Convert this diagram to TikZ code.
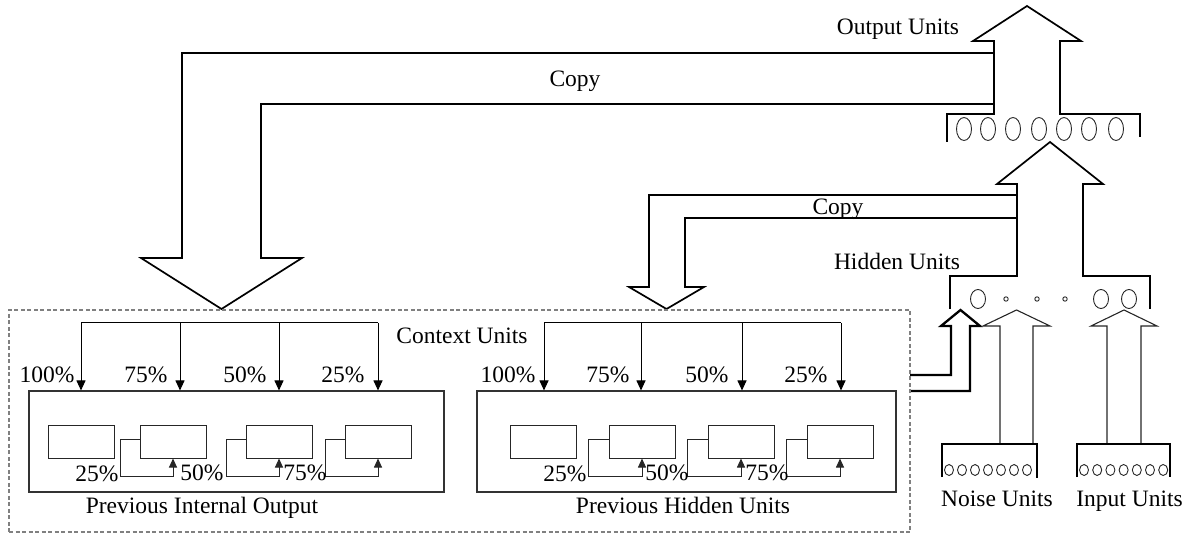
\documentclass[tikz,border=0pt]{standalone}
\usepackage{fontspec}
\setmainfont{Liberation Serif}
\usetikzlibrary{arrows.meta}
\begin{document}
\begin{tikzpicture}[x=1pt,y=-1pt,
  font=\fontsize{23.5}{28}\selectfont,
  blockarrow/.style={draw=black,line width=1.7pt,line join=miter},
  slimblock/.style={draw=black!85,line width=1.1pt,line join=miter},
  heavyblock/.style={draw=black,line width=2.3pt,line join=miter},
  unitline/.style={draw=black,line width=1.5pt},
  unit/.style={draw=black!85,line width=0.9pt},
  cell/.style={draw=black!85,line width=1pt,minimum width=66pt,minimum height=33pt,inner sep=0pt},
  bigbox/.style={draw=black!80,line width=1.1pt,inner sep=0pt,minimum height=101pt},
  ctxbox/.style={draw=gray,dash pattern=on 4pt off 2.5pt,line width=1.1pt,inner sep=0pt,minimum height=222pt,minimum width=901pt},
  bus/.style={draw=black,line width=1pt},
  drop/.style={draw=black,line width=1pt,-{Triangle[length=10pt,width=9pt]}},
  feed/.style={draw=black!85,line width=0.9pt,-{Triangle[length=9pt,width=8pt]}},
  lbl/.style={anchor=base,inner sep=0pt},
]
\useasboundingbox (0,0) rectangle (1193,534);

% ---------- output layer ----------
\draw[blockarrow] (947,142) -- (947,114) -- (994,114) -- (994,41) -- (973,41)
  -- (1027,6) -- (1081,41) -- (1060,41) -- (1060,114) -- (1140,114) -- (1140,137);
\foreach \x in {964,988,1013,1039,1064,1089,1116}
  \draw[unit] (\x,129) ellipse [x radius=7.5pt, y radius=11.5pt];
\node[lbl] (outlbl) at (898,35) {Output Units};

% copy of the output back to the context units
\draw[blockarrow] (994,53) -- (182,53) -- (182,258) -- (141,258) -- (221.5,309)
  -- (302,258) -- (261,258) -- (261,104) -- (994,104);
\node[lbl] (copyA) at (575,87) {Copy};

% ---------- hidden layer ----------
\draw[blockarrow] (950,309) -- (950,276) -- (1017,276) -- (1017,184) -- (997,184)
  -- (1050,142) -- (1103,184) -- (1083,184) -- (1083,276) -- (1150,276) -- (1150,309);
\foreach \x in {978,1101,1129}
  \draw[unit] (\x,299) ellipse [x radius=7.5pt, y radius=9.5pt];
\foreach \x in {1006,1037,1065}
  \draw[unit] (\x,299) circle [radius=2.2pt];
\node[lbl] (hidlbl) at (897,270) {Hidden Units};

% copy of the hidden layer back to the context units
\draw[blockarrow] (1017,195) -- (649,195) -- (649,287) -- (629,287) -- (666.5,309)
  -- (704,287) -- (685,287) -- (685,218) -- (1017,218);
\node[lbl] (copyB) at (838,215) {Copy};

% context units feeding the hidden layer
\draw[heavyblock] (910,375) -- (951,375) -- (951,326) -- (941,326) -- (960.5,310)
  -- (980,326) -- (970,326) -- (970,391) -- (910,391);

% ---------- noise and input layers ----------
\draw[slimblock] (1000,444) -- (1000,326) -- (983,326) -- (1016.5,310) -- (1050,326)
  -- (1033,326) -- (1033,444);
\draw[unitline] (942,477) -- (942,444) -- (1037,444) -- (1037,478);
\foreach \i in {0,...,6}
  \draw[unit] (949+13*\i,470) ellipse [x radius=4.5pt, y radius=5.5pt];
\node[lbl] (noiselbl) at (997,506) {Noise Units};

\draw[slimblock] (1107,444) -- (1107,326) -- (1091,326) -- (1124,310) -- (1157,326)
  -- (1141,326) -- (1141,444);
\draw[unitline] (1077,477) -- (1077,444) -- (1170,444) -- (1170,477);
\foreach \i in {0,...,6}
  \draw[unit] (1084+13.2*\i,470) ellipse [x radius=4.5pt, y radius=5.5pt];
\node[lbl] (inlbl) at (1129.5,506) {Input Units};

% ---------- context units ----------
\node[ctxbox] (ctx) at (459.5,421) {};
\node[lbl] (ctxlbl) at (462,343) {Context Units};

% previous internal output
\node[bigbox,minimum width=415pt] (pio) at (236.5,441.5) {};
\node[lbl] (piolbl) at (202,513) {Previous Internal Output};
\node[cell] (a1) at (81,441.5) {};
\node[cell] (a2) at (173,441.5) {};
\node[cell] (a3) at (279,441.5) {};
\node[cell] (a4) at (378,441.5) {};
\coordinate (ad1) at (81,323);
\coordinate (ad2) at (180,323);
\coordinate (ad3) at (279,323);
\coordinate (ad4) at (378,323);
\draw[bus] (ad1) -- (ad4);
\foreach \k in {1,...,4}
  \draw[drop] (ad\k) -- (ad\k |- pio.north);
\node[lbl] at (47,382) {100\%};
\node[lbl] at (146,382) {75\%};
\node[lbl] at (245,382) {50\%};
\node[lbl] at (343,382) {25\%};
\foreach \k in {2,3,4}
  \draw[feed] ([yshift=2.5pt]a\k.west) -- ++(-19,0) |- ([yshift=-34.5pt]a\k.center) -- (a\k.south);
\node[lbl] at (97,481) {25\%};
\node[lbl] at (202,480) {50\%};
\node[lbl] at (305,480) {75\%};

% previous hidden units
\node[bigbox,minimum width=419pt] (phu) at (686.5,441.5) {};
\node[lbl] (phulbl) at (683,513) {Previous Hidden Units};
\node[cell] (b1) at (543,441.5) {};
\node[cell] (b2) at (642,441.5) {};
\node[cell] (b3) at (741,441.5) {};
\node[cell] (b4) at (840,441.5) {};
\coordinate (bd1) at (544,323);
\coordinate (bd2) at (641,323);
\coordinate (bd3) at (742,323);
\coordinate (bd4) at (841,323);
\draw[bus] (bd1) -- (bd4);
\foreach \k in {1,...,4}
  \draw[drop] (bd\k) -- (bd\k |- phu.north);
\node[lbl] at (508,382) {100\%};
\node[lbl] at (608,382) {75\%};
\node[lbl] at (707,382) {50\%};
\node[lbl] at (806,382) {25\%};
\foreach \k in {2,3,4}
  \draw[feed] ([yshift=2.5pt]b\k.west) -- ++(-20,0) |- ([yshift=-34.5pt]b\k.center) -- (b\k.south);
\node[lbl] at (565,481) {25\%};
\node[lbl] at (667,480) {50\%};
\node[lbl] at (767,480) {75\%};
\end{tikzpicture}
\end{document}
